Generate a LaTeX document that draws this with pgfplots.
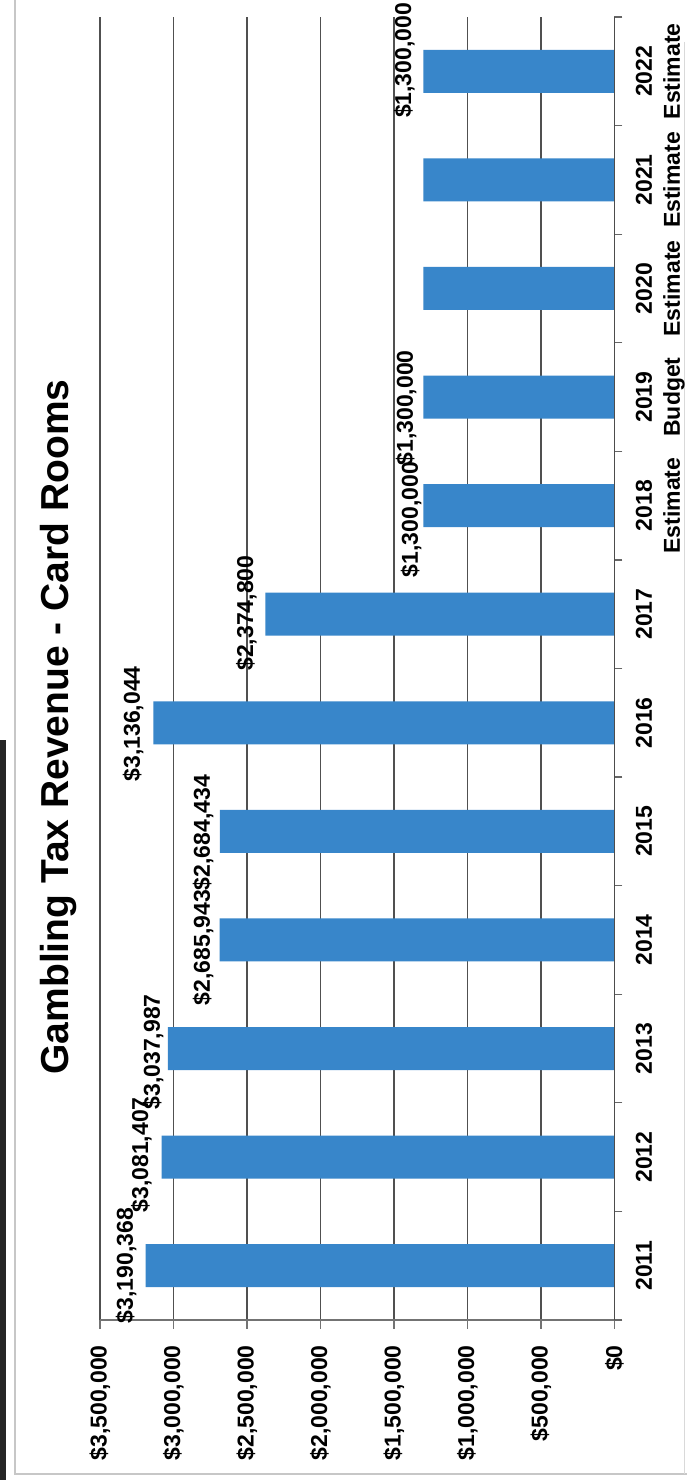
\documentclass[border=0pt]{standalone}
\usepackage{pgfplots}
\pgfplotsset{compat=1.18}
\usepackage{pgfplotstable}
\usepackage{fontspec}
\setmainfont{Liberation Sans}
\definecolor{barblue}{RGB}{56,134,202}
\definecolor{gridc}{RGB}{80,80,80}

\pgfplotstableread{
cat val
0 3190368
1 3081407
2 3037987
3 2685943
4 2684434
5 3136044
6 2374800
7 1300000
8 1300000
9 1300000
10 1300000
11 1300000
}\revdata

\pgfplotstableread{
ly lx lab
0.00 3276000 \$3,190,368
1.02 3173000 \$3,081,407
1.97 3092000 \$3,037,987
2.93 2752000 \$2,685,943
3.99 2752000 \$2,684,434
4.99 3228000 \$3,136,044
6.01 2459000 \$2,374,800
6.87 1337000 \$1,300,000
7.90 1371000 \$1,300,000
11.10 1384000 \$1,300,000
}\labdata

\begin{document}
\begin{tikzpicture}[x=1pt,y=1pt]
\fill[white] (0,0) rectangle (343.5,741);
% outer frame (scanned page)
\draw[black!22, line width=1pt] (7.5,741) -- (7.5,4) -- (343.5,4);
\draw[black!15, line width=0.8pt] (342.3,720) -- (342.3,4);
\fill[black!85] (0,1) rectangle (3.2,371);
\begin{axis}[
  at={(50pt,81pt)}, anchor=south west,
  scale only axis, width=257.25pt, height=651.5pt,
  x dir=reverse,
  xmin=0, xmax=3500000,
  ymin=-0.5, ymax=11.5,
  axis line style={draw=none},
  tick align=outside,
  major tick length=4.5pt,
  minor tick length=4pt,
  xtick={0,500000,1000000,1500000,2000000,2500000,3000000,3500000},
  xticklabels={{\$0},{\$500,000},{\$1,000,000},{\$1,500,000},{\$2,000,000},{\$2,500,000},{\$3,000,000},{\$3,500,000}},
  xtick pos=left,
  xtick style={draw=black!55, line width=0.6pt},
  xticklabel style={rotate=90, anchor=east, inner sep=0pt,
     font=\bfseries\fontsize{11.5}{13}\selectfont},
  xticklabel shift=8pt,
  scaled x ticks=false,
  ytick={0,1,2,3,4,5,6,7,8,9,10,11},
  yticklabels={2011,2012,2013,2014,2015,2016,2017,{2018\\Estimate},{2019\\Budget},{2020\\Estimate},{2021\\Estimate},{2022\\Estimate}},
  ytick pos=right,
  yticklabel pos=right,
  major y tick style={draw=none},
  minor ytick={-0.5,0.5,1.5,2.5,3.5,4.5,5.5,6.5,7.5,8.5,9.5,10.5,11.5},
  minor y tick style={draw=black!60, line width=0.6pt},
  yticklabel style={rotate=90, anchor=north, align=center, inner sep=0pt,
     font=\bfseries\fontsize{11.5}{14}\selectfont},
  yticklabel shift=6pt,
  xmajorgrids,
  grid style={gridc, line width=0.7pt},
  clip=false,
]
\addplot[xbar, bar width=21.5pt, fill=barblue, draw=none] table[x=val, y=cat]{\revdata};
\addplot[draw=none, mark=none, nodes near coords, point meta=explicit symbolic,
  nodes near coords style={rotate=90, anchor=base, inner sep=0pt, text=black,
     font=\bfseries\fontsize{11.5}{13}\selectfont}]
  table[x=lx, y=ly, meta=lab]{\labdata};
\draw[black!70, line width=0.8pt] (axis cs:0,-0.5) -- (axis cs:0,11.5);
\draw[black!55, line width=0.7pt] (axis cs:0,-0.5) -- (axis cs:3500000,-0.5);
\end{axis}
\node[rotate=90, anchor=base, inner sep=0pt, font=\bfseries\fontsize{19.5}{23}\selectfont] at (34,377.5) {Gambling Tax Revenue - Card Rooms};
\pgfresetboundingbox
\path[use as bounding box] (0,0) rectangle (343.5,741);
\end{tikzpicture}
\end{document}
